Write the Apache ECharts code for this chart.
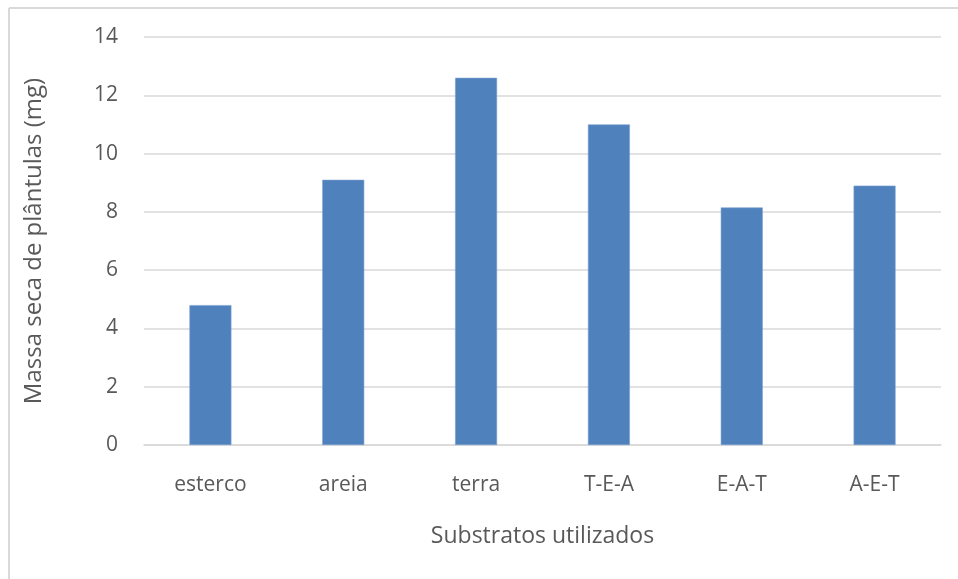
<!DOCTYPE html>
<html>
<head>
<meta charset="utf-8">
<script src="https://cdn.jsdelivr.net/npm/echarts@6/dist/echarts.min.js"></script>
<style>
  html, body { margin: 0; padding: 0; background: #ffffff; }
  #chart { width: 958px; height: 579px; }
</style>
</head>
<body>
<div id="chart"></div>
<script>
// Substrates tested and dry seedling mass for each
const categories = ['esterco', 'areia', 'terra', 'T-E-A', 'E-A-T', 'A-E-T'];
const dryMass = [4.8, 9.1, 12.6, 11.0, 8.15, 8.9];
const yTicks = [0, 2, 4, 6, 8, 10, 12, 14];

const FONT = "'Open Sans', 'Noto Sans', sans-serif";
const TEXT = '#595959';
const GRID = '#d9d9d9';

const chart = echarts.init(document.getElementById('chart'), null, { renderer: 'canvas' });

chart.setOption({
  animation: false,
  backgroundColor: '#ffffff',
  textStyle: { fontFamily: FONT },
  graphic: [
    // chart frame: top and left edges
    { type: 'line', shape: { x1: 9, y1: 8, x2: 958, y2: 8 }, style: { stroke: GRID, lineWidth: 2 } },
    { type: 'line', shape: { x1: 9, y1: 8, x2: 9, y2: 579 }, style: { stroke: GRID, lineWidth: 2 } }
  ],
  grid: { left: 144, right: 17, top: 37, bottom: 134, containLabel: false },
  xAxis: {
    type: 'category',
    data: categories,
    name: 'Substratos utilizados',
    nameLocation: 'middle',
    nameGap: 80,
    nameTextStyle: { color: TEXT, fontSize: 23, fontFamily: FONT },
    axisLine: { show: true, lineStyle: { color: GRID, width: 1.5 } },
    axisTick: { show: false },
    axisLabel: { color: TEXT, fontSize: 21, margin: 30, fontFamily: FONT }
  },
  yAxis: {
    type: 'value',
    min: yTicks[0],
    max: yTicks[yTicks.length - 1],
    interval: 2,
    name: 'Massa seca de plântulas (mg)',
    nameLocation: 'middle',
    nameRotate: 90,
    nameGap: 98,
    nameTextStyle: { color: TEXT, fontSize: 24, fontFamily: FONT },
    axisLine: { show: false },
    axisTick: { show: false },
    axisLabel: { color: TEXT, fontSize: 21, margin: 26, fontFamily: FONT },
    splitLine: { show: true, lineStyle: { color: GRID, width: 1.5 } }
  },
  series: [{
    type: 'bar',
    data: dryMass,
    barWidth: '31.6%',
    itemStyle: { color: '#4f81bd', borderColor: '#7a9fd0', borderWidth: 0.6 }
  }]
});
</script>
</body>
</html>
